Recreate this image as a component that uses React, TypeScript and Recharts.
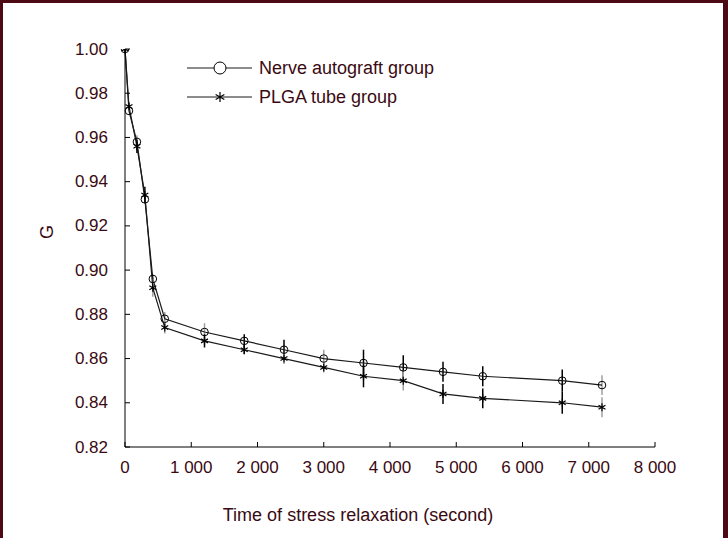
import React from "react";
import { LineChart, Line, XAxis, YAxis, ErrorBar, Legend, Label } from "recharts";

const times = [0, 60, 180, 300, 420, 600, 1200, 1800, 2400, 3000, 3600, 4200, 4800, 5400, 6600, 7200];
const nerveValues = [1.0, 0.972, 0.958, 0.932, 0.896, 0.878, 0.872, 0.868, 0.864, 0.86, 0.858, 0.856, 0.854, 0.852, 0.85, 0.848];
const plgaValues = [1.0, 0.974, 0.956, 0.934, 0.892, 0.874, 0.868, 0.864, 0.86, 0.856, 0.852, 0.85, 0.844, 0.842, 0.84, 0.838];
// error half-lengths: black bars and gray bars (null = none)
const nerveErrBlack = [null, null, null, null, null, null, null, 0.003, 0.0045, null, 0.006, 0.0055, 0.0045, 0.0045, 0.005, null];
const nerveErrGray = [null, null, 0.003, null, 0.002, 0.003, 0.004, null, null, 0.004, null, null, null, null, null, 0.0045];
const plgaErrBlack = [null, null, 0.003, 0.0037, null, null, 0.003, 0.002, null, null, 0.005, null, 0.0045, 0.0045, 0.005, null];
const plgaErrGray = [null, 0.002, null, null, 0.004, 0.0027, null, null, 0.0025, 0.0023, null, 0.0045, null, null, null, 0.0045];

const yTicks = [0.82, 0.84, 0.86, 0.88, 0.9, 0.92, 0.94, 0.96, 0.98, 1.0];
const xTicks = [0, 1000, 2000, 3000, 4000, 5000, 6000, 7000, 8000];
const xTickLabels = ["0", "1 000", "2 000", "3 000", "4 000", "5 000", "6 000", "7 000", "8 000"];
const seriesNames = ["Nerve autograft group", "PLGA tube group"];
const xTitle = "Time of stress relaxation (second)";
const yTitle = "G";

const data = times.map((t, i) => ({
  t,
  nerve: nerveValues[i],
  plga: plgaValues[i],
  nerveK: nerveErrBlack[i],
  nerveG: nerveErrGray[i],
  plgaK: plgaErrBlack[i],
  plgaG: plgaErrGray[i],
}));

const FONT = "'Liberation Sans', Arial, sans-serif";
const TEXT = "#3a0a12";
const LINE = "#1a1a1a";

const starPath = (cx: number, cy: number, s: number) => {
  const dx = s * 0.87;
  const dy = s * 0.5;
  return `M${cx},${cy - s}L${cx},${cy + s}M${cx - dx},${cy - dy}L${cx + dx},${cy + dy}M${cx - dx},${cy + dy}L${cx + dx},${cy - dy}`;
};

const renderStar = (p: any) => {
  if (p.cx == null || p.cy == null) return <g key={`s-${p.index}`} />;
  return <path key={`s-${p.index}`} d={starPath(p.cx, p.cy, 4)} stroke="#000" strokeWidth={1.2} fill="none" />;
};

const YTick = (p: any) => {
  const { x, y, payload } = p;
  return (
    <g>
      <line x1={x} x2={x + 5} y1={y} y2={y} stroke="#000" strokeWidth={1} />
      <text x={x - 17} y={y} textAnchor="end" dominantBaseline="central" fontSize={17} fontFamily={FONT} fill={TEXT}>
        {Number(payload.value).toFixed(2)}
      </text>
    </g>
  );
};

const XTick = (p: any) => {
  const { x, y, payload, index } = p;
  return (
    <g>
      <line x1={x} x2={x} y1={y} y2={y - 5} stroke="#000" strokeWidth={1} />
      <text x={x} y={y + 20} textAnchor="middle" dominantBaseline="central" fontSize={17} fontFamily={FONT} fill={TEXT}>
        {xTickLabels[index] ?? String(payload.value)}
      </text>
    </g>
  );
};

const LegendContent = () => (
  <svg width={300} height={65} style={{ overflow: "visible" }}>
    <line x1={7} x2={72} y1={18} y2={18} stroke={LINE} strokeWidth={1.2} />
    <circle cx={40} cy={18} r={6} fill="#fff" stroke="#000" strokeWidth={1} />
    <text x={79} y={18} dominantBaseline="central" fontSize={18} fontFamily={FONT} fill={TEXT}>
      {seriesNames[0]}
    </text>
    <line x1={7} x2={72} y1={47} y2={47} stroke={LINE} strokeWidth={1.2} />
    <path d={starPath(40, 47, 5)} stroke="#000" strokeWidth={1.2} fill="none" />
    <text x={79} y={47} dominantBaseline="central" fontSize={18} fontFamily={FONT} fill={TEXT}>
      {seriesNames[1]}
    </text>
  </svg>
);

export default function App() {
  return (
    <div style={{ position: "absolute", left: 0, top: 0, width: 728, height: 538, background: "#fff", overflow: "hidden" }}>
      <LineChart width={728} height={538} data={data} margin={{ top: 49, right: 73, bottom: 61, left: 65 }}>
        <XAxis
          dataKey="t"
          type="number"
          domain={[0, 8000]}
          ticks={xTicks}
          interval={0}
          height={30}
          tickSize={0}
          tickMargin={0}
          tickLine={false}
          axisLine={{ stroke: "#000", strokeWidth: 1 }}
          tick={<XTick />}
        >
          <Label
            content={(props: any) => {
              const vb = props.viewBox || {};
              return (
                <text
                  x={vb.x + vb.width / 2 - 32}
                  y={515}
                  textAnchor="middle"
                  dominantBaseline="central"
                  fontSize={18}
                  fontFamily={FONT}
                  fill={TEXT}
                >
                  {xTitle}
                </text>
              );
            }}
          />
        </XAxis>
        <YAxis
          type="number"
          domain={[0.82, 1.0]}
          ticks={yTicks}
          interval={0}
          width={60}
          tickSize={0}
          tickMargin={0}
          tickLine={false}
          allowDataOverflow
          axisLine={{ stroke: "#000", strokeWidth: 1 }}
          tick={<YTick />}
        >
          <Label
            content={() => (
              <text
                x={47}
                y={232}
                textAnchor="middle"
                dominantBaseline="central"
                fontSize={18}
                fontFamily={FONT}
                fill={TEXT}
                transform="rotate(-90 47 232)"
              >
                {yTitle}
              </text>
            )}
          />
        </YAxis>
        <Legend
          layout="vertical"
          align="center"
          verticalAlign="middle"
          wrapperStyle={{ position: "absolute", left: 180, top: 50, width: 300, height: 65 }}
          content={<LegendContent />}
        />
        <Line
          type="linear"
          dataKey="nerve"
          name={seriesNames[0]}
          stroke={LINE}
          strokeWidth={1.2}
          dot={{ r: 3.8, fill: "none", stroke: "#000", strokeWidth: 1 }}
          activeDot={false}
          isAnimationActive={false}
        >
          <ErrorBar dataKey="nerveK" width={0} stroke="#000" strokeWidth={1.5} direction="y" />
          <ErrorBar dataKey="nerveG" width={0} stroke="#a0a0a0" strokeWidth={1.5} direction="y" />
        </Line>
        <Line
          type="linear"
          dataKey="plga"
          name={seriesNames[1]}
          stroke={LINE}
          strokeWidth={1.2}
          dot={renderStar}
          activeDot={false}
          isAnimationActive={false}
        >
          <ErrorBar dataKey="plgaK" width={0} stroke="#000" strokeWidth={1.5} direction="y" />
          <ErrorBar dataKey="plgaG" width={0} stroke="#a0a0a0" strokeWidth={1.5} direction="y" />
        </Line>
      </LineChart>
      <div
        style={{
          position: "absolute",
          left: 0,
          top: 0,
          width: 728,
          height: 538,
          boxSizing: "border-box",
          borderTop: "3px solid #4e0a14",
          borderLeft: "3px solid #4e0a14",
          borderRight: "5px solid #4e0a14",
          pointerEvents: "none",
        }}
      />
    </div>
  );
}
